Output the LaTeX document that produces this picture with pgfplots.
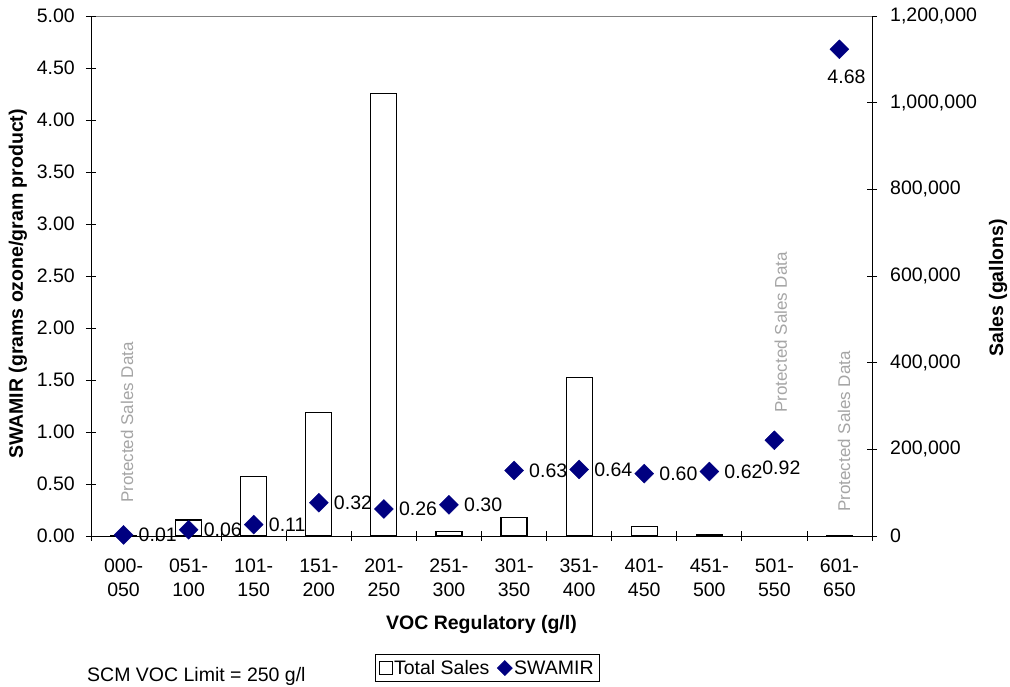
\documentclass[border=0pt]{standalone}
\usepackage{pgfplots}
\pgfplotsset{compat=1.18}
\usepackage{pgfplotstable}
\usepackage{fontspec}
\setmainfont{Liberation Sans}
\usetikzlibrary{calc}
\definecolor{swnavy}{RGB}{0,0,128}
\definecolor{protgray}{RGB}{165,165,165}

\pgfplotstableread{
idx sales
0 1500
1 37000
2 138000
3 285500
4 1022000
5 10800
6 42200
7 365300
8 21500
9 4000
11 1500
}\salestable

\pgfplotstableread{
idx swamir
0 0.01
1 0.06
2 0.11
3 0.32
4 0.26
5 0.30
6 0.63
7 0.64
8 0.60
9 0.62
}\swright

\pgfplotstableread{
idx swamir
10 0.92
11 4.68
}\swbelow

\pgfplotsset{
  mycommon/.style={
    scale only axis, width=781pt, height=520pt,
    xmin=-0.5, xmax=11.5, clip=false,
    /pgf/number format/assume math mode=true,
    axis line style={black, line width=0.8pt},
    tick style={black, line width=0.8pt},
    tick align=center,
    major tick length=10pt,
    ticklabel style={font=\fontsize{19.5}{24}\selectfont},
  }
}

\begin{document}
\begin{tikzpicture}[font=\fontsize{19.5}{24}\selectfont]
\useasboundingbox (-91pt,-151pt) rectangle (919pt,536pt);

% ---- Axis 1: sales bars (right axis) ----
\begin{axis}[mycommon,
  axis y line*=right, axis x line*=bottom,
  ymin=0, ymax=1200000,
  ytick={0,200000,400000,600000,800000,1000000,1200000},
  scaled y ticks=false,
  yticklabel style={/pgf/number format/fixed, /pgf/number format/1000 sep={,}, inner sep=0pt, anchor=west, xshift=13pt},
  xtick={0,...,11},
  xticklabels={{000-\\050},{051-\\100},{101-\\150},{151-\\200},{201-\\250},{251-\\300},{301-\\350},{351-\\400},{401-\\450},{451-\\500},{501-\\550},{601-\\650}},
  major x tick style={draw=none},
  minor xtick={-0.5,0.5,...,11.5},
  minor tick length=10pt,
  minor x tick style={black, line width=0.8pt},
  xticklabel style={align=center, inner sep=0pt, anchor=north, yshift=-18pt},
]
\addplot[ybar, bar width=0.4, fill=white, draw=black, line width=1.2pt] table[x=idx, y=sales]{\salestable};
\draw[gray, line width=0.8pt] (rel axis cs:0,1) -- (rel axis cs:1,1);
\node[rotate=90, anchor=west, text=protgray, inner sep=0pt, font=\fontsize{17}{20}\selectfont] at (axis cs:0.054,76000) {Protected Sales Data};
\node[rotate=90, anchor=west, text=protgray, inner sep=0pt, font=\fontsize{17}{20}\selectfont] at (axis cs:10.1,284000) {Protected Sales Data};
\node[rotate=90, anchor=west, text=protgray, inner sep=0pt, font=\fontsize{17}{20}\selectfont] at (axis cs:11.07,55400) {Protected Sales Data};
\node[rotate=90, font=\bfseries\fontsize{19.5}{24}\selectfont, anchor=center] at ($(rel axis cs:1,0.5)+(126pt,-12pt)$) {Sales (gallons)};
\node[font=\bfseries\fontsize{19.5}{24}\selectfont, anchor=center] at ($(rel axis cs:0.5,0)+(0pt,-89pt)$) {VOC Regulatory (g/l)};
\node[anchor=base west, inner sep=0pt] at ($(rel axis cs:0,0)+(-4pt,-146pt)$) {SCM VOC Limit = 250 g/l};
\end{axis}

% ---- Axis 2: SWAMIR (left axis) ----
\begin{axis}[mycommon,
  axis y line*=left, axis x line=none,
  ymin=0, ymax=5,
  ytick={0,0.5,1,1.5,2,2.5,3,3.5,4,4.5,5},
  yticklabel style={/pgf/number format/fixed, /pgf/number format/fixed zerofill, /pgf/number format/precision=2, inner sep=0pt, anchor=east, xshift=-11pt},
  legend style={at={(0.5075,-0.254)}, anchor=center, draw=black, line width=0.8pt,
    font=\fontsize{19.5}{24}\selectfont, inner sep=3.5pt, row sep=0pt,
    /tikz/every even column/.append style={column sep=6pt}},
  legend columns=2,
  legend cell align=left,
]
\addlegendimage{only marks, mark=square, mark size=6.5pt, mark options={fill=white, draw=black, line width=1pt}}
\addlegendentry{Total Sales}
\addlegendimage{only marks, mark=square*, mark size=5.2pt, mark options={rotate=45, fill=swnavy, draw=swnavy}}
\addlegendentry{SWAMIR}

\addplot[forget plot, only marks, mark=square*, mark size=6.7pt, color=swnavy, mark options={rotate=45},
  point meta=y,
  nodes near coords={\pgfmathprintnumber[fixed,fixed zerofill,precision=2]{\pgfplotspointmeta}},
  every node near coord/.append style={anchor=west, xshift=15pt, inner sep=0pt, text=black, font=\fontsize{19.5}{24}\selectfont}]
  table[x=idx, y=swamir]{\swright};
\addplot[forget plot, only marks, mark=square*, mark size=6.7pt, color=swnavy, mark options={rotate=45},
  point meta=y,
  nodes near coords={\pgfmathprintnumber[fixed,fixed zerofill,precision=2]{\pgfplotspointmeta}},
  every node near coord/.append style={anchor=north, xshift=7pt, yshift=-20pt, inner sep=0pt, text=black, font=\fontsize{19.5}{24}\selectfont}]
  table[x=idx, y=swamir]{\swbelow};
\node[rotate=90, font=\bfseries\fontsize{19.5}{24}\selectfont, anchor=center] at ($(rel axis cs:0,0.5)+(-73pt,-8pt)$) {SWAMIR (grams ozone/gram product)};
\end{axis}
\end{tikzpicture}
\end{document}
